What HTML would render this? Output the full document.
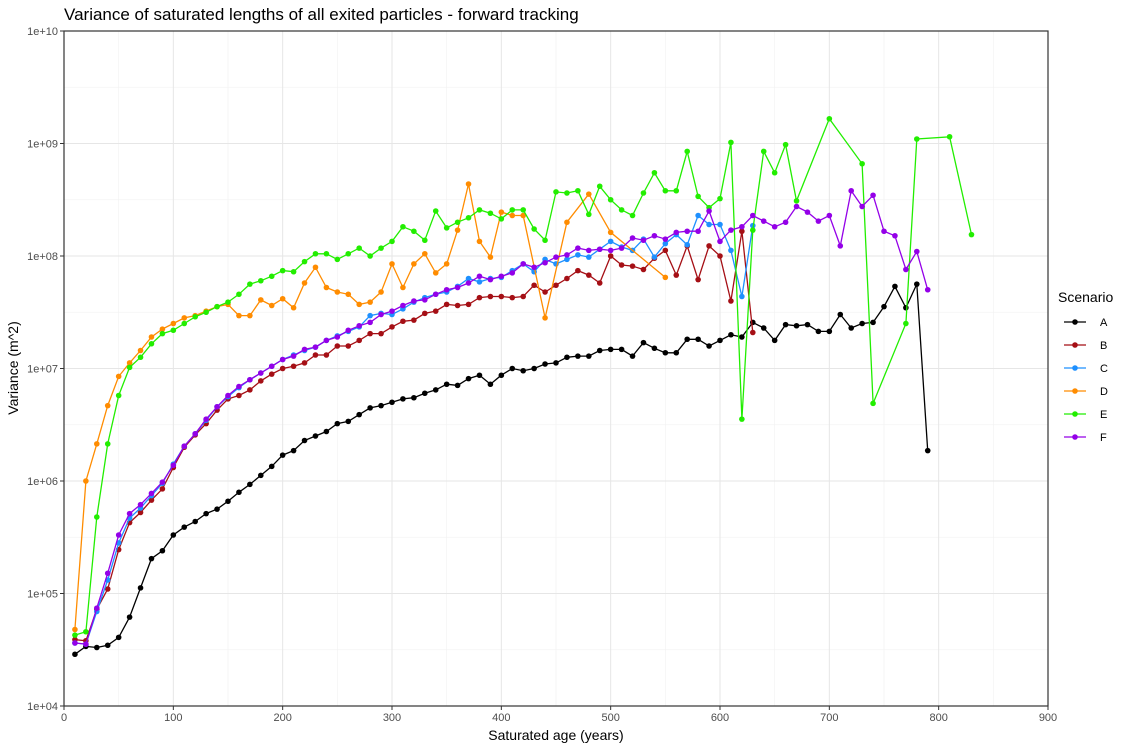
<!DOCTYPE html>
<html><head><meta charset="utf-8">
<style>
body{margin:0;background:#fff;font-family:"Liberation Sans",sans-serif;}
svg text{font-family:"Liberation Sans",sans-serif;}
</style></head><body>
<svg id="chart" width="1144" height="750" xmlns="http://www.w3.org/2000/svg">
<text x="64" y="20" font-size="17" fill="#000">Variance of saturated lengths of all exited particles - forward tracking</text>
<text x="556" y="740" font-size="14" text-anchor="middle" fill="#000">Saturated age (years)</text>
<text transform="translate(18,368) rotate(-90)" font-size="14" text-anchor="middle" fill="#000">Variance (m^2)</text>
<g id="grid"></g>
<g id="series"></g>
<rect x="64" y="31" width="984" height="675" fill="none" stroke="#333" stroke-width="1.2"/>
<g id="ticks"></g>
<g id="legend">
<text x="1058" y="302" font-size="14" fill="#000">Scenario</text>
</g>
</svg>
<script>
const xTicks = [0,100,200,300,400,500,600,700,800,900];
const yTickExps = [4,5,6,7,8,9,10];
const yTickLabels = ["1e+04","1e+05","1e+06","1e+07","1e+08","1e+09","1e+10"];
const names = ["A","B","C","D","E","F"];
const colors = ["#000000","#A50F15","#1E90FF","#FF8C00","#22EE00","#9400E8"];
// values stored as log10(variance)
const agesA = [10,20,30,40,50,60,70,80,90,100,110,120,130,140,150,160,170,180,190,200,210,220,230,240,250,260,270,280,290,300,310,320,330,340,350,360,370,380,390,400,410,420,430,440,450,460,470,480,490,500,510,520,530,540,550,560,570,580,590,600,610,620,630,640,650,660,670,680,690,700,710,720,730,740,750,760,770,780,790];
const logVarA = [4.46,4.53,4.52,4.54,4.61,4.79,5.05,5.31,5.38,5.52,5.59,5.64,5.71,5.75,5.82,5.90,5.97,6.05,6.13,6.23,6.27,6.36,6.40,6.44,6.51,6.53,6.59,6.65,6.67,6.70,6.73,6.74,6.78,6.81,6.86,6.85,6.91,6.94,6.86,6.94,7.00,6.98,7.00,7.04,7.05,7.10,7.11,7.11,7.16,7.17,7.17,7.11,7.23,7.18,7.14,7.14,7.26,7.26,7.20,7.25,7.30,7.28,7.41,7.36,7.25,7.39,7.38,7.39,7.33,7.33,7.48,7.36,7.40,7.41,7.55,7.73,7.54,7.75,6.27];
const agesB = [10,20,30,40,50,60,70,80,90,100,110,120,130,140,150,160,170,180,190,200,210,220,230,240,250,260,270,280,290,300,310,320,330,340,350,360,370,380,390,400,410,420,430,440,450,460,470,480,490,500,510,520,530,540,550,560,570,580,590,600,610,620,630];
const logVarB = [4.59,4.58,4.86,5.04,5.39,5.63,5.72,5.83,5.93,6.12,6.30,6.41,6.51,6.63,6.73,6.76,6.81,6.89,6.95,7.00,7.02,7.05,7.12,7.12,7.20,7.20,7.25,7.31,7.31,7.37,7.42,7.43,7.49,7.51,7.57,7.56,7.57,7.63,7.64,7.64,7.63,7.64,7.74,7.68,7.74,7.80,7.87,7.83,7.76,8.00,7.92,7.91,7.88,7.98,8.05,7.83,8.09,7.79,8.09,8.00,7.60,8.22,7.32];
const agesC = [10,20,30,40,50,60,70,80,90,100,110,120,130,140,150,160,170,180,190,200,210,220,230,240,250,260,270,280,290,300,310,320,330,340,350,360,370,380,390,400,410,420,430,440,450,460,470,480,490,500,510,520,530,540,550,560,570,580,590,600,610,620,630];
const logVarC = [4.56,4.55,4.84,5.12,5.45,5.67,5.76,5.87,5.98,6.15,6.31,6.42,6.54,6.66,6.75,6.83,6.90,6.96,7.02,7.08,7.12,7.16,7.19,7.25,7.29,7.33,7.37,7.47,7.49,7.48,7.53,7.59,7.63,7.66,7.68,7.73,7.80,7.77,7.80,7.81,7.87,7.93,7.86,7.97,7.93,7.97,8.01,7.99,8.06,8.13,8.08,8.05,8.15,7.99,8.11,8.19,8.10,8.36,8.28,8.28,8.05,7.64,8.27];
const agesD = [10,20,30,40,50,60,70,80,90,100,110,120,130,140,150,160,170,180,190,200,210,220,230,240,250,260,270,280,290,300,310,320,330,340,350,360,370,380,390,400,410,420,440,460,480,500,550];
const logVarD = [4.68,6.00,6.33,6.67,6.93,7.05,7.16,7.28,7.35,7.40,7.45,7.47,7.51,7.55,7.57,7.47,7.47,7.61,7.56,7.62,7.54,7.76,7.90,7.72,7.68,7.66,7.57,7.59,7.68,7.93,7.72,7.93,8.02,7.85,7.93,8.23,8.64,8.13,7.99,8.39,8.36,8.36,7.45,8.30,8.55,8.21,7.81];
const agesE = [10,20,30,40,50,60,70,80,90,100,110,120,130,140,150,160,170,180,190,200,210,220,230,240,250,260,270,280,290,300,310,320,330,340,350,360,370,380,390,400,410,420,430,440,450,460,470,480,490,500,510,520,530,540,550,560,570,580,590,600,610,620,630,640,650,660,670,700,730,740,770,780,810,830];
const logVarE = [4.63,4.66,5.68,6.33,6.76,7.01,7.10,7.22,7.31,7.34,7.40,7.46,7.50,7.55,7.59,7.66,7.75,7.78,7.82,7.87,7.86,7.95,8.02,8.02,7.97,8.02,8.07,8.00,8.07,8.13,8.26,8.22,8.14,8.40,8.25,8.30,8.34,8.41,8.38,8.33,8.41,8.41,8.24,8.14,8.57,8.56,8.58,8.37,8.62,8.50,8.41,8.36,8.56,8.74,8.58,8.58,8.93,8.53,8.43,8.51,9.01,6.55,8.23,8.93,8.74,8.99,8.49,9.22,8.82,6.69,7.40,9.04,9.06,8.19];
const agesF = [10,20,30,40,50,60,70,80,90,100,110,120,130,140,150,160,170,180,190,200,210,220,230,240,250,260,270,280,290,300,310,320,330,340,350,360,370,380,390,400,410,420,430,440,450,460,470,480,490,500,510,520,530,540,550,560,570,580,590,600,610,620,630,640,650,660,670,680,690,700,710,720,730,740,750,760,770,780,790];
const logVarF = [4.56,4.55,4.87,5.18,5.52,5.71,5.79,5.89,5.99,6.14,6.31,6.42,6.55,6.66,6.76,6.84,6.90,6.96,7.02,7.08,7.11,7.17,7.19,7.25,7.28,7.34,7.38,7.41,7.48,7.51,7.56,7.60,7.61,7.66,7.70,7.72,7.76,7.82,7.79,7.82,7.85,7.93,7.90,7.94,7.99,8.01,8.07,8.05,8.06,8.05,8.07,8.16,8.14,8.18,8.15,8.21,8.22,8.22,8.40,8.13,8.23,8.26,8.36,8.31,8.26,8.30,8.44,8.39,8.31,8.36,8.09,8.58,8.44,8.54,8.22,8.18,7.88,8.04,7.70];

const L=64,R=1048,T=31,B=706;
const xScale = v => L + (v-0)/(900-0)*(R-L);
const yScale = lg => B - (lg-4)/(10-4)*(B-T);
const NS="http://www.w3.org/2000/svg";
function mk(tag, attrs, parent){const e=document.createElementNS(NS,tag);for(const k in attrs)e.setAttribute(k,attrs[k]);parent.appendChild(e);return e;}
const grid=document.getElementById('grid'), ticks=document.getElementById('ticks');
// minor gridlines
for(let i=0;i<xTicks.length-1;i++){
  const v=(xTicks[i]+xTicks[i+1])/2;
  const g=mk('line',{x1:xScale(v),x2:xScale(v),y1:T,y2:B,stroke:'#f3f3f3','stroke-width':0.7},grid);
  
  
}
for(let i=0;i<yTickExps.length-1;i++){
  const v=yTickExps[i]+0.5;
  const g=mk('line',{x1:L,x2:R,y1:yScale(v),y2:yScale(v),stroke:'#f3f3f3','stroke-width':0.7},grid);
  
  
}
xTicks.forEach(v=>{
  const g=mk('line',{x1:xScale(v),x2:xScale(v),y1:T,y2:B,stroke:'#e6e6e6','stroke-width':1},grid);
  
  
  const t=mk('line',{x1:xScale(v),x2:xScale(v),y1:B,y2:B+4,stroke:'#333','stroke-width':1},ticks);
  
  
  const lb=mk('text',{x:xScale(v),y:B+15,'font-size':11,'text-anchor':'middle',fill:'#4d4d4d'},ticks);
  lb.textContent=v;
  
  
});
yTickExps.forEach((v,i)=>{
  const g=mk('line',{x1:L,x2:R,y1:yScale(v),y2:yScale(v),stroke:'#e6e6e6','stroke-width':1},grid);
  
  
  const t=mk('line',{x1:L-4,x2:L,y1:yScale(v),y2:yScale(v),stroke:'#333','stroke-width':1},ticks);
  
  
  const lb=mk('text',{x:L-6,y:yScale(v)+4,'font-size':11,'text-anchor':'end',fill:'#4d4d4d'},ticks);
  lb.textContent=yTickLabels[i];
  
  
});
const allAges=[agesA,agesB,agesC,agesD,agesE,agesF];
const allVals=[logVarA,logVarB,logVarC,logVarD,logVarE,logVarF];
const sg=document.getElementById('series');
names.forEach((n,si)=>{
  const g=mk('g',{},sg);
  
  
  const pts=allAges[si].map((a,i)=>xScale(a).toFixed(1)+','+yScale(allVals[si][i]).toFixed(1)).join(' ');
  const pl=mk('polyline',{points:pts,fill:'none',stroke:colors[si],'stroke-width':1.3},g);
  
  
  allAges[si].forEach((a,i)=>{
    const c=mk('circle',{cx:xScale(a),cy:yScale(allVals[si][i]),r:2.8,fill:colors[si]},g);
    
    
  });
});
const lg=document.getElementById('legend');
names.forEach((n,i)=>{
  const y=322+i*23;
  const e=mk('g',{},lg);
  
  
  mk('line',{x1:1064,x2:1086,y1:y,y2:y,stroke:colors[i],'stroke-width':1.3},e);
  mk('circle',{cx:1075,cy:y,r:2.8,fill:colors[i]},e);
  const t=mk('text',{x:1100,y:y+4,'font-size':11,fill:'#000'},e);
  t.textContent=n;
});
</script>
</body></html>
